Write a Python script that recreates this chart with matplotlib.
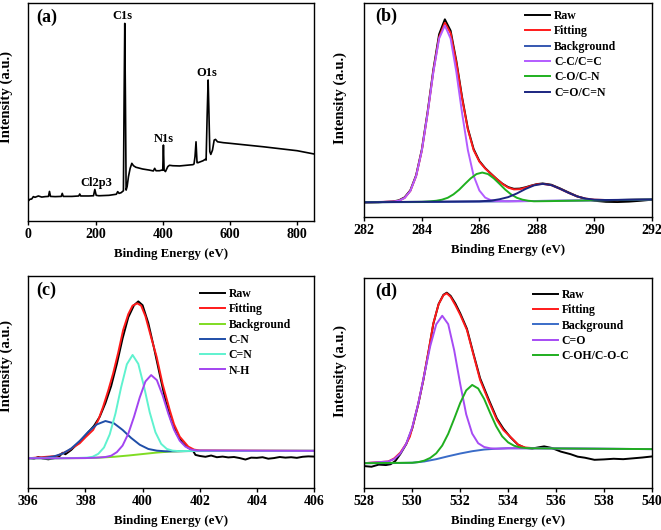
import matplotlib
matplotlib.use("Agg")
import matplotlib.pyplot as plt

# --- survey spectrum (a) ---
survey_be = [0, 5, 10, 15, 20, 25, 30, 40, 50, 60, 63, 66, 80, 98, 101, 104, 130, 150, 153, 156,
             180, 194, 198, 202, 210, 240, 262, 266, 270, 276, 283, 285, 287, 289, 291, 294, 298,
             303, 308, 313, 320, 340, 360, 372, 376, 380, 390, 398, 400, 402, 404, 408, 415, 420,
             430, 450, 470, 490, 493, 496, 499, 502, 505, 520, 526, 529, 532, 535, 537, 540, 543,
             548, 553, 557, 563, 580, 600, 650, 700, 750, 800, 850]
survey_int = [0.092, 0.100, 0.101, 0.112, 0.109, 0.112, 0.115, 0.110, 0.112, 0.113, 0.136, 0.113,
              0.112, 0.113, 0.127, 0.113, 0.113, 0.115, 0.124, 0.115, 0.115, 0.116, 0.145, 0.118,
              0.116, 0.118, 0.123, 0.135, 0.127, 0.130, 0.139, 0.556, 0.908, 0.556, 0.142, 0.158,
              0.204, 0.242, 0.265, 0.254, 0.247, 0.239, 0.234, 0.230, 0.242, 0.231, 0.231, 0.234,
              0.233, 0.349, 0.234, 0.227, 0.250, 0.256, 0.254, 0.253, 0.256, 0.259, 0.262, 0.296,
              0.364, 0.268, 0.268, 0.277, 0.283, 0.280, 0.479, 0.648, 0.525, 0.319, 0.306, 0.326,
              0.372, 0.375, 0.364, 0.360, 0.357, 0.349, 0.341, 0.332, 0.323, 0.308]
survey_peaks = ["C1s", "O1s", "N1s", "Cl2p3"]
survey_peak_x = [281, 530, 403, 203]
survey_peak_y = [0.94, 0.681, 0.375, 0.173]

# --- C1s (b) ---
c1s_be = [282.0, 282.5, 283.0, 283.2, 283.4, 283.6, 283.8, 284.0, 284.2, 284.4, 284.6, 284.8, 285.0,
          285.2, 285.4, 285.6, 285.8, 286.0, 286.2, 286.4, 286.6, 286.8, 287.0, 287.2, 287.4, 287.6,
          287.8, 288.0, 288.2, 288.5, 288.8, 289.1, 289.4, 289.7, 290.0, 290.4, 290.8, 291.2, 291.6,
          292.0]
c1s_raw = [0.068, 0.069, 0.073, 0.078, 0.092, 0.125, 0.195, 0.316, 0.492, 0.690, 0.855, 0.925, 0.872,
           0.730, 0.560, 0.414, 0.318, 0.262, 0.229, 0.203, 0.178, 0.156, 0.140, 0.132, 0.133, 0.139,
           0.147, 0.154, 0.157, 0.151, 0.134, 0.115, 0.097, 0.084, 0.076, 0.071, 0.070, 0.072, 0.076,
           0.081]
c1s_fit = [0.069, 0.070, 0.072, 0.076, 0.089, 0.122, 0.191, 0.311, 0.485, 0.681, 0.841, 0.909, 0.860,
           0.722, 0.554, 0.409, 0.313, 0.259, 0.227, 0.202, 0.178, 0.155, 0.1375, 0.129, 0.130, 0.137,
           0.146, 0.153, 0.155, 0.149, 0.132, 0.113, 0.096, 0.086, 0.081, 0.0795, 0.079, 0.080, 0.081,
           0.082]
c1s_bg_be = [282, 284, 286, 288, 290, 292]
c1s_bg = [0.069, 0.070, 0.072, 0.075, 0.078, 0.082]
c1s_cc_be = [282.0, 283.0, 283.2, 283.4, 283.6, 283.8, 284.0, 284.2, 284.4, 284.6, 284.8, 285.0, 285.2,
             285.4, 285.6, 285.8, 286.0, 286.2, 286.4, 286.6, 287.0, 288.0, 290.0, 292.0]
c1s_cc = [0.069, 0.072, 0.076, 0.089, 0.122, 0.191, 0.311, 0.484, 0.678, 0.835, 0.896, 0.835, 0.678,
          0.485, 0.313, 0.193, 0.124, 0.091, 0.0785, 0.075, 0.0735, 0.075, 0.078, 0.082]
c1s_co_be = [282.0, 284.0, 284.3, 284.5, 284.7, 284.9, 285.1, 285.3, 285.5, 285.7, 285.9, 286.1, 286.3,
             286.5, 286.7, 286.9, 287.1, 287.3, 287.5, 287.7, 287.9, 288.5, 290.0, 292.0]
c1s_co = [0.069, 0.071, 0.0735, 0.076, 0.081, 0.090, 0.106, 0.128, 0.155, 0.181, 0.201, 0.208, 0.201,
          0.181, 0.155, 0.128, 0.106, 0.090, 0.081, 0.076, 0.0735, 0.0745, 0.078, 0.082]
c1s_cn_be = [282.0, 286.0, 286.4, 286.7, 287.0, 287.3, 287.6, 287.9, 288.2, 288.5, 288.8, 289.1, 289.4,
             289.7, 290.0, 290.4, 292.0]
c1s_cn = [0.069, 0.0735, 0.0765, 0.083, 0.093, 0.110, 0.131, 0.148, 0.155, 0.149, 0.132, 0.113, 0.096,
          0.086, 0.081, 0.0795, 0.082]

# --- N1s (c) ---
n1s_raw_be = [396.0, 396.2, 396.35, 396.5, 396.7, 396.9, 397.1, 397.2, 397.3, 397.5, 397.7, 397.9,
              398.1, 398.3, 398.5, 398.7, 398.9, 399.1, 399.3, 399.5, 399.7, 399.85, 400.0, 400.2,
              400.4, 400.6, 400.8, 401.0, 401.2, 401.4, 401.6, 401.75, 401.85, 402.0, 402.2, 402.4,
              402.6, 402.8, 403.0, 403.2, 403.4, 403.6, 403.8, 404.0, 404.2, 404.4, 404.6, 404.8,
              405.0, 405.2, 405.4, 405.6, 405.8, 406.0]
n1s_raw = [0.141, 0.137, 0.145, 0.138, 0.134, 0.139, 0.150, 0.165, 0.158, 0.178, 0.205, 0.232, 0.262,
           0.292, 0.335, 0.400, 0.480, 0.585, 0.705, 0.805, 0.862, 0.880, 0.862, 0.778, 0.660, 0.535,
           0.412, 0.318, 0.252, 0.212, 0.188, 0.178, 0.155, 0.150, 0.146, 0.152, 0.144, 0.147, 0.143,
           0.145, 0.140, 0.133, 0.142, 0.141, 0.144, 0.137, 0.140, 0.145, 0.142, 0.144, 0.141, 0.146,
           0.148, 0.147]
n1s_fit_be = [396.0, 397.0, 397.4, 397.8, 398.0, 398.27, 398.45, 398.62, 398.8, 398.97, 399.15, 399.32,
              399.5, 399.65, 399.81, 399.95, 400.1, 400.3, 400.49, 400.7, 400.95, 401.1, 401.3, 401.6,
              401.8, 402.0, 406.0]
n1s_fit = [0.139, 0.150, 0.175, 0.210, 0.238, 0.273, 0.320, 0.383, 0.460, 0.540, 0.640, 0.745, 0.820,
           0.860, 0.871, 0.860, 0.810, 0.710, 0.619, 0.490, 0.367, 0.300, 0.241, 0.194, 0.180, 0.176,
           0.174]
n1s_bg_be = [396.0, 397.0, 398.0, 398.5, 399.0, 399.5, 400.0, 400.5, 401.0, 401.5, 402.0, 406.0]
n1s_bg = [0.139, 0.139, 0.140, 0.142, 0.146, 0.152, 0.159, 0.166, 0.171, 0.173, 0.174, 0.174]
n1s_cn_be = [396.0, 396.6, 396.9, 397.2, 397.5, 397.8, 398.1, 398.4, 398.7, 399.0, 399.3, 399.6, 399.9,
             400.2, 400.5, 400.8, 401.2, 401.6, 406.0]
n1s_cn = [0.139, 0.142, 0.148, 0.161, 0.185, 0.221, 0.264, 0.299, 0.315, 0.304, 0.273, 0.235, 0.203,
          0.183, 0.175, 0.172, 0.172, 0.173, 0.174]
n1s_cdn_be = [396.0, 397.0, 397.6, 398.05, 398.25, 398.45, 398.65, 398.85, 399.05, 399.25, 399.45,
              399.65, 399.85, 400.05, 400.25, 400.45, 400.65, 400.85, 401.05, 401.25, 402.0, 406.0]
n1s_cdn = [0.139, 0.139, 0.140, 0.142, 0.146, 0.160, 0.190, 0.252, 0.350, 0.475, 0.583, 0.627, 0.585,
           0.478, 0.356, 0.262, 0.207, 0.183, 0.175, 0.173, 0.174, 0.174]
n1s_nh_be = [396.0, 397.0, 398.0, 398.4, 398.7, 398.9, 399.1, 399.3, 399.5, 399.7, 399.9, 400.1, 400.3,
             400.5, 400.7, 400.9, 401.1, 401.3, 401.5, 401.7, 401.9, 406.0]
n1s_nh = [0.139, 0.139, 0.140, 0.142, 0.145, 0.151, 0.168, 0.199, 0.255, 0.335, 0.426, 0.502, 0.532,
          0.508, 0.437, 0.350, 0.274, 0.222, 0.194, 0.180, 0.176, 0.174]

# --- O1s (d) ---
o1s_raw_be = [528.0, 528.3, 528.6, 528.9, 529.1, 529.3, 529.5, 529.75, 530.0, 530.25, 530.46, 530.7,
              530.88, 531.1, 531.3, 531.44, 531.6, 531.8, 532.0, 532.28, 532.55, 532.83, 533.2, 533.53,
              533.8, 534.1, 534.4, 534.7, 535.0, 535.25, 535.5, 535.8, 536.2, 536.6, 536.9, 537.2,
              537.6, 538.0, 538.4, 538.8, 539.2, 539.6, 540.0]
o1s_raw = [0.103, 0.100, 0.110, 0.108, 0.112, 0.128, 0.160, 0.208, 0.283, 0.398, 0.512, 0.662, 0.782,
           0.876, 0.920, 0.930, 0.915, 0.878, 0.832, 0.758, 0.640, 0.522, 0.418, 0.330, 0.282, 0.240,
           0.206, 0.190, 0.187, 0.192, 0.197, 0.190, 0.172, 0.160, 0.148, 0.143, 0.133, 0.135, 0.138,
           0.136, 0.140, 0.144, 0.149]
o1s_fit_be = [528.0, 529.0, 529.25, 529.5, 529.75, 529.9, 530.0, 530.25, 530.46, 530.7, 530.88, 531.1,
              531.3, 531.44, 531.6, 531.8, 532.0, 532.28, 532.55, 532.83, 533.2, 533.53, 533.8, 534.09,
              534.43, 534.7, 535.0]
o1s_fit = [0.117, 0.125, 0.140, 0.167, 0.210, 0.243, 0.285, 0.400, 0.514, 0.665, 0.784, 0.875, 0.918,
           0.927, 0.910, 0.870, 0.825, 0.752, 0.635, 0.514, 0.410, 0.323, 0.275, 0.243, 0.204, 0.192,
           0.189]
o1s_bg_be = [528.0, 529.0, 530.0, 530.5, 531.0, 531.5, 532.0, 532.5, 533.0, 533.5, 534.0, 535.0, 540.0]
o1s_bg = [0.117, 0.117, 0.119, 0.125, 0.136, 0.150, 0.163, 0.174, 0.182, 0.186, 0.188, 0.188, 0.184]
o1s_cdo_be = [528.0, 529.0, 529.25, 529.5, 529.75, 530.0, 530.25, 530.5, 530.75, 531.0, 531.25, 531.5,
              531.75, 532.0, 532.25, 532.5, 532.75, 533.0, 533.25, 533.5, 534.0, 535.0, 540.0]
o1s_cdo = [0.117, 0.125, 0.137, 0.163, 0.210, 0.288, 0.401, 0.538, 0.675, 0.779, 0.820, 0.780, 0.655,
           0.495, 0.350, 0.258, 0.212, 0.194, 0.188, 0.186, 0.188, 0.188, 0.184]
o1s_coh_be = [528.0, 530.0, 530.25, 530.5, 530.75, 531.0, 531.25, 531.5, 531.75, 532.0, 532.25, 532.5,
              532.75, 533.0, 533.25, 533.5, 533.75, 534.0, 534.25, 534.5, 534.75, 535.0, 540.0]
o1s_coh = [0.117, 0.119, 0.122, 0.129, 0.142, 0.164, 0.201, 0.257, 0.329, 0.404, 0.464, 0.490, 0.473,
           0.423, 0.356, 0.293, 0.245, 0.216, 0.200, 0.192, 0.189, 0.188, 0.184]

plt.rcParams.update({
    "font.family": "Liberation Serif",
    "font.weight": "bold",
    "axes.labelweight": "bold",
    "axes.linewidth": 1.0,
    "xtick.direction": "out",
    "xtick.major.size": 3,
    "xtick.major.width": 1.0,
    "xtick.labelsize": 10,
})

W, H = 661, 530
fig = plt.figure(figsize=(W / 100, H / 100), dpi=100)


def px_axes(x0, y0, x1, y1):
    return fig.add_axes([x0 / W, 1 - y1 / H, (x1 - x0) / W, (y1 - y0) / H])


def style(ax, xlim, ticks, tag, tag_x, tag_y, ylab_x, ylab_y):
    ax.set_xlim(*xlim)
    ax.set_ylim(0, 1)
    ax.set_xticks(ticks)
    ax.set_yticks([])
    ax.tick_params(axis="x", pad=2)
    ax.set_xlabel("Binding Energy (eV)", labelpad=5, fontsize=9.3)
    ax.set_ylabel("Intensity (a.u.)", fontsize=10.6)
    ax.yaxis.set_label_coords(ylab_x, ylab_y)
    ax.text(tag_x, tag_y, tag, transform=ax.transAxes, ha="left", va="center",
            fontsize=13, fontweight="bold")


def legend(ax, x, y):
    ax.legend(loc="upper left", bbox_to_anchor=(x, y), frameon=False, fontsize=8.5,
              handlelength=2.1, handletextpad=0.35, labelspacing=0.28,
              borderpad=0, borderaxespad=0)


lw = 1.4

# (a) survey
ax_a = px_axes(28.3, 3.4, 314, 221)
ax_a.plot(survey_be, survey_int, color="black", lw=1.2)
for name, px, py in zip(survey_peaks, survey_peak_x, survey_peak_y):
    ax_a.text(px, py, name, ha="center", va="center", fontsize=9)
style(ax_a, (0, 850), [0, 200, 400, 600, 800], "(a)", 0.027, 0.936, -0.054, 0.57)

# (b) C1s
ax_b = px_axes(364.3, 3.3, 652, 217)
ax_b.plot(c1s_be, c1s_raw, color="black", lw=lw, label="Raw")
ax_b.plot(c1s_be, c1s_fit, color="#ff1a1a", lw=lw, label="Fitting")
ax_b.plot(c1s_bg_be, c1s_bg, color="#3557b0", lw=lw, label="Background")
ax_b.plot(c1s_cc_be, c1s_cc, color="#b35cff", lw=lw, label="C-C/C=C")
ax_b.plot(c1s_co_be, c1s_co, color="#1fb01f", lw=lw, label="C-O/C-N")
ax_b.plot(c1s_cn_be, c1s_cn, color="#1b2580", lw=lw, label="C=O/C=N")
style(ax_b, (282, 292), [282, 284, 286, 288, 290, 292], "(b)", 0.037, 0.937, -0.06, 0.557)
legend(ax_b, 0.559, 0.968)

# (c) N1s
ax_c = px_axes(28.3, 276, 314, 487.7)
ax_c.plot(n1s_raw_be, n1s_raw, color="black", lw=lw, label="Raw")
ax_c.plot(n1s_fit_be, n1s_fit, color="#ff1a1a", lw=lw, label="Fitting")
ax_c.plot(n1s_bg_be, n1s_bg, color="#7fdc22", lw=lw, label="Background")
ax_c.plot(n1s_cn_be, n1s_cn, color="#1f4ea8", lw=lw, label="C-N")
ax_c.plot(n1s_cdn_be, n1s_cdn, color="#5ff2cf", lw=lw, label="C=N")
ax_c.plot(n1s_nh_be, n1s_nh, color="#a244f0", lw=lw, label="N-H")
style(ax_c, (396, 406), [396, 398, 400, 402, 404, 406], "(c)", 0.027, 0.934, -0.054, 0.575)
legend(ax_c, 0.60, 0.943)

# (d) O1s
ax_d = px_axes(364.3, 278, 652, 487.7)
ax_d.plot(o1s_raw_be, o1s_raw, color="black", lw=lw, label="Raw")
ax_d.plot(o1s_fit_be, o1s_fit, color="#ff1a1a", lw=lw, label="Fitting")
ax_d.plot(o1s_bg_be, o1s_bg, color="#3a6cc8", lw=lw, label="Background")
ax_d.plot(o1s_cdo_be, o1s_cdo, color="#a64bf4", lw=lw, label="C=O")
ax_d.plot(o1s_coh_be, o1s_coh, color="#1fae1f", lw=lw, label="C-OH/C-O-C")
style(ax_d, (528, 540), [528, 530, 532, 534, 536, 538, 540], "(d)", 0.037, 0.935, -0.06, 0.556)
legend(ax_d, 0.586, 0.948)

fig.savefig("out.png", dpi=100)
